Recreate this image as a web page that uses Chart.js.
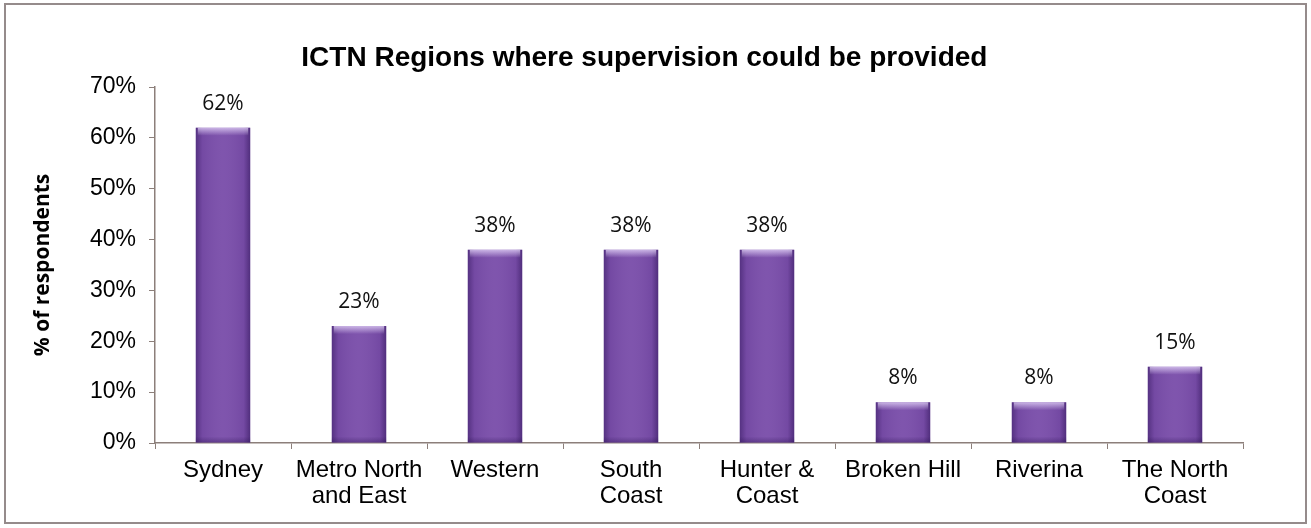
<!DOCTYPE html>
<html>
<head>
<meta charset="utf-8">
<script src="https://cdn.jsdelivr.net/npm/chart.js@4.4.0/dist/chart.umd.min.js"></script>
<style>
  html, body { margin: 0; padding: 0; background: #fff; }
  #wrap { width: 1311px; height: 528px; }
</style>
</head>
<body>
<div id="wrap"><canvas id="regions"></canvas></div>
<script>
// ===============================
// Data
// ===============================
const regionLabels = [
  "Sydney",
  ["Metro North", "and East"],
  "Western",
  ["South", "Coast"],
  ["Hunter &", "Coast"],
  "Broken Hill",
  "Riverina",
  ["The North", "Coast"],
];
const supervisionPct = [62, 23, 38, 38, 38, 8, 8, 15];
const pctTicks = [0, 10, 20, 30, 40, 50, 60, 70];

const chartTitle = "ICTN Regions where supervision could be provided";
const axisTitle = "% of respondents";

const axisColor = "#8c7f7a";
const barColor = "#7a4eaa";

// ===============================
// Plugins
// ===============================
// white background + thin frame around the whole figure
const framePlugin = {
  id: "frame",
  beforeDraw(chart) {
    const { ctx, width, height } = chart;
    ctx.save();
    ctx.fillStyle = "#fff";
    ctx.fillRect(0, 0, width, height);
    ctx.strokeStyle = "#958b8b";
    ctx.lineWidth = 2;
    ctx.strokeRect(5, 4, width - 10, height - 9);
    ctx.restore();
  },
};

// title drawn a little left of centre, over the plot
const headlinePlugin = {
  id: "headline",
  afterDraw(chart) {
    const { ctx, width } = chart;
    ctx.save();
    ctx.font = "bold 28px 'Liberation Sans', Arial, sans-serif";
    ctx.fillStyle = "#000";
    ctx.textAlign = "center";
    ctx.textBaseline = "middle";
    ctx.fillText(chartTitle, width * 0.4915, 58);
    ctx.restore();
  },
};

// shading on each bar: darker sides and a light bevel along the top
const barShadePlugin = {
  id: "barShade",
  afterDatasetsDraw(chart) {
    const { ctx } = chart;
    const meta = chart.getDatasetMeta(0);
    ctx.save();
    meta.data.forEach((bar) => {
      const { x, y, base, width } = bar.getProps(["x", "y", "base", "width"], true);
      const left = x - width / 2;
      const h = base - y;

      const side = ctx.createLinearGradient(left, 0, left + width, 0);
      side.addColorStop(0, "rgba(40,15,80,0.45)");
      side.addColorStop(0.12, "rgba(40,15,80,0.08)");
      side.addColorStop(0.5, "rgba(255,255,255,0.04)");
      side.addColorStop(0.88, "rgba(40,15,80,0.08)");
      side.addColorStop(1, "rgba(40,15,80,0.5)");
      ctx.fillStyle = side;
      ctx.fillRect(left, y, width, h);

      const bevel = Math.min(8, h / 2);
      const top = ctx.createLinearGradient(0, y, 0, y + bevel);
      top.addColorStop(0, "rgba(230,215,250,0.75)");
      top.addColorStop(1, "rgba(230,215,250,0)");
      ctx.fillStyle = top;
      ctx.fillRect(left + 2, y, width - 4, bevel);

      const foot = ctx.createLinearGradient(0, base - 6, 0, base);
      foot.addColorStop(0, "rgba(40,15,80,0)");
      foot.addColorStop(1, "rgba(40,15,80,0.35)");
      ctx.fillStyle = foot;
      ctx.fillRect(left, base - 6, width, 6);
    });
    ctx.restore();
  },
};

// value labels above the bars
const valueLabelPlugin = {
  id: "valueLabels",
  afterDatasetsDraw(chart) {
    const { ctx } = chart;
    const meta = chart.getDatasetMeta(0);
    ctx.save();
    ctx.font = "21px 'Open Sans', 'Noto Sans', sans-serif";
    ctx.fillStyle = "#111";
    ctx.textAlign = "center";
    ctx.textBaseline = "middle";
    meta.data.forEach((bar, i) => {
      const { x, y } = bar.getProps(["x", "y"], true);
      ctx.fillText(supervisionPct[i] + "%", x, y - 24);
    });
    ctx.restore();
  },
};

// ===============================
// Chart
// ===============================
const ctx = document.getElementById("regions").getContext("2d");

new Chart(ctx, {
  type: "bar",
  data: {
    labels: regionLabels,
    datasets: [
      {
        data: supervisionPct,
        backgroundColor: barColor,
        borderWidth: 0,
        barPercentage: 0.4,
        categoryPercentage: 1,
      },
    ],
  },
  options: {
    responsive: true,
    maintainAspectRatio: false,
    animation: false,
    events: [],
    layout: { padding: { top: 87, right: 68, bottom: 0, left: 20 } },
    plugins: {
      legend: { display: false },
      tooltip: { enabled: false },
      title: { display: false },
    },
    scales: {
      x: {
        grid: {
          drawOnChartArea: false,
          drawTicks: true,
          tickLength: 6,
          color: axisColor,
          offset: true,
        },
        border: { color: axisColor, width: 1.5 },
        ticks: {
          color: "#000",
          padding: 8,
          maxRotation: 0,
          autoSkip: false,
          font: { family: "'Liberation Sans', Arial, sans-serif", size: 24, lineHeight: 1.08 },
        },
        afterFit(scale) {
          scale.height = 85;
        },
      },
      y: {
        min: 0,
        max: 70,
        afterBuildTicks(scale) {
          scale.ticks = pctTicks.map((v) => ({ value: v }));
        },
        grid: {
          drawOnChartArea: false,
          drawTicks: true,
          tickLength: 6,
          color: axisColor,
        },
        border: { color: axisColor, width: 1.5 },
        ticks: {
          color: "#000",
          padding: 13,
          callback: (v) => v + "%",
          font: { family: "'Liberation Sans', Arial, sans-serif", size: 23 },
        },
        title: {
          display: true,
          text: axisTitle,
          color: "#000",
          padding: { top: 10, bottom: 0 },
          font: { family: "'Open Sans', 'Noto Sans', sans-serif", size: 21, weight: "bold" },
        },
        afterFit(scale) {
          scale.width = 135;
        },
      },
    },
  },
  plugins: [framePlugin, barShadePlugin, valueLabelPlugin, headlinePlugin],
});
</script>
</body>
</html>
